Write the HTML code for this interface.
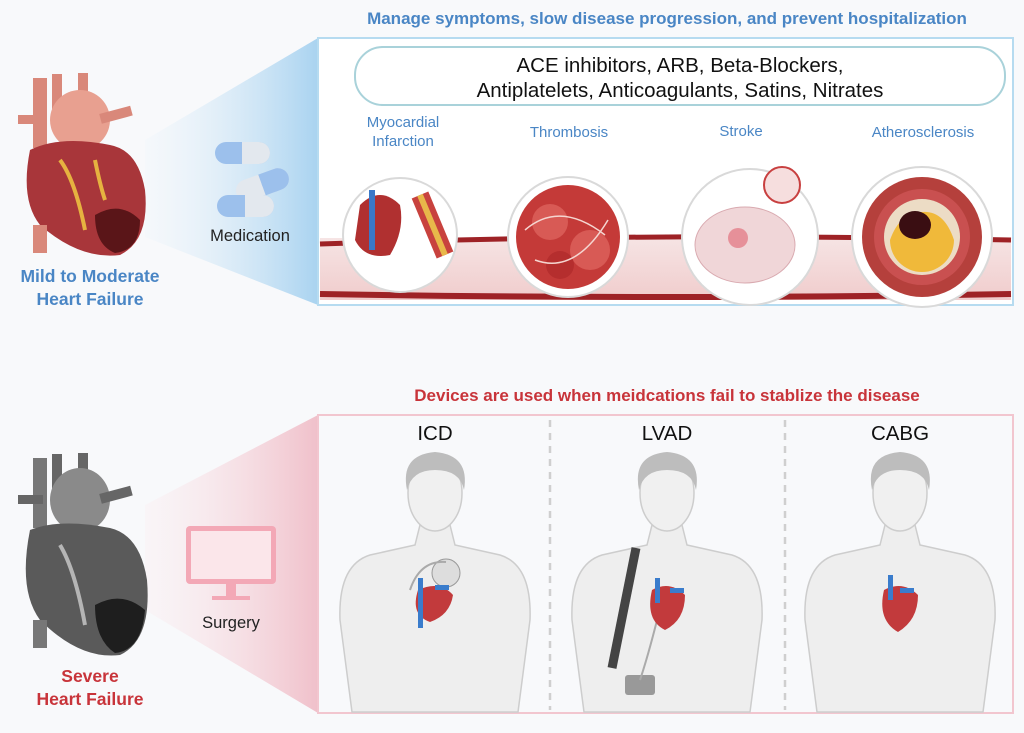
<!DOCTYPE html>
<html><head><meta charset="utf-8"><style>
body{margin:0;background:#f8f9fb;font-family:"Liberation Sans",sans-serif;}
svg{display:block}
</style></head><body>
<svg width="1024" height="733" viewBox="0 0 1024 733" xmlns="http://www.w3.org/2000/svg" font-family="Liberation Sans, sans-serif">
<defs>
<linearGradient id="bg1" x1="0" x2="1" y1="0" y2="0"><stop offset="0" stop-color="#eef5fb" stop-opacity="0.3"/><stop offset="1" stop-color="#a9d3f0"/></linearGradient>
<linearGradient id="bg2" x1="0" x2="1" y1="0" y2="0"><stop offset="0" stop-color="#fbecef" stop-opacity="0.3"/><stop offset="1" stop-color="#f0c0ca"/></linearGradient>
<linearGradient id="vein" x1="0" x2="0" y1="0" y2="1"><stop offset="0" stop-color="#f6e4e4"/><stop offset="1" stop-color="#f0cccc"/></linearGradient>
</defs>
<rect width="1024" height="733" fill="#f8f9fb"/>
<!-- top -->
<text x="667" y="24" text-anchor="middle" font-size="17" font-weight="bold" fill="#4a86c5">Manage symptoms, slow disease progression, and prevent hospitalization</text>
<polygon points="145,140 318,38 318,305 145,237" fill="url(#bg1)"/>
<rect x="318" y="38" width="695" height="267" fill="#fff" stroke="#b6dbf0" stroke-width="2"/>
<rect x="320" y="238" width="691" height="62" fill="url(#vein)"/>
<path d="M320 244 Q660 232 1011 240" stroke="#9e2226" stroke-width="5" fill="none"/>
<path d="M320 294 Q660 300 1011 294" stroke="#9e2226" stroke-width="6" fill="none"/>
<rect x="355" y="47" width="650" height="58" rx="28" fill="#fff" stroke="#a9d2da" stroke-width="2"/>
<text x="680" y="72" text-anchor="middle" font-size="20.5" fill="#111">ACE inhibitors, ARB, Beta-Blockers,</text>
<text x="680" y="97" text-anchor="middle" font-size="20.5" fill="#111">Antiplatelets, Anticoagulants, Satins, Nitrates</text>
<g font-size="15" fill="#4a86c5" text-anchor="middle">
<text x="403" y="127">Myocardial</text><text x="403" y="146">Infarction</text>
<text x="569" y="137">Thrombosis</text>
<text x="741" y="136">Stroke</text>
<text x="923" y="137">Atherosclerosis</text>
</g>
<circle cx="400" cy="235" r="57" fill="#fff" stroke="#d9d9d9" stroke-width="2"/>
<path d="M360 205 q20-20 40 0 q5 25 -10 50 q-25 5 -35 -15z" fill="#b03030"/>
<path d="M372 190 l0 60" stroke="#3a78c8" stroke-width="6"/>
<path d="M420 195 l25 60" stroke="#c8423e" stroke-width="18"/><path d="M420 195 l25 60" stroke="#e8b84a" stroke-width="6"/>
<circle cx="568" cy="237" r="60" fill="#fff" stroke="#d9d9d9" stroke-width="2"/>
<circle cx="568" cy="237" r="52" fill="#c43a38"/>
<circle cx="550" cy="222" r="18" fill="#d85a55"/><circle cx="590" cy="250" r="20" fill="#d85a55"/><circle cx="560" cy="265" r="14" fill="#b52e2e"/>
<path d="M525 230 Q560 200 605 235 M535 260 Q575 275 608 220" stroke="#f5d5d0" stroke-width="1.5" fill="none"/>
<circle cx="750" cy="237" r="68" fill="#fff" stroke="#d9d9d9" stroke-width="2"/>
<ellipse cx="745" cy="245" rx="50" ry="38" fill="#f0d6d8" stroke="#d9aab0"/>
<circle cx="738" cy="238" r="10" fill="#e06070" opacity="0.6"/>
<circle cx="782" cy="185" r="18" fill="#f6dede" stroke="#c84040" stroke-width="2"/>
<circle cx="922" cy="237" r="70" fill="#fff" stroke="#d9d9d9" stroke-width="2"/>
<circle cx="922" cy="237" r="60" fill="#b5403c"/>
<circle cx="922" cy="237" r="48" fill="#c95050"/>
<circle cx="922" cy="237" r="38" fill="#ecdcc5"/>
<path d="M890 240 a32 32 0 0 0 64 0 q-10-30 -32-28 q-22 0 -32 28z" fill="#f0b93a"/>
<ellipse cx="915" cy="225" rx="16" ry="14" fill="#3a0e12"/>
<g>
<rect x="215" y="142" width="55" height="22" rx="11" fill="#9cc0ec"/><rect x="242" y="142" width="28" height="22" rx="11" fill="#e3e8ee"/><rect x="242" y="142" width="12" height="22" fill="#e3e8ee"/>
<g transform="rotate(-20 262 185)"><rect x="235" y="174" width="55" height="22" rx="11" fill="#e3e8ee"/><rect x="262" y="174" width="28" height="22" rx="11" fill="#9cc0ec"/><rect x="262" y="174" width="10" height="22" fill="#9cc0ec"/></g>
<rect x="217" y="195" width="57" height="22" rx="11" fill="#9cc0ec"/><rect x="245" y="195" width="29" height="22" rx="11" fill="#e3e8ee"/><rect x="245" y="195" width="12" height="22" fill="#e3e8ee"/>
</g>
<text x="250" y="241" text-anchor="middle" font-size="16.5" fill="#222">Medication</text>
<g>
<rect x="33" y="78" width="14" height="70" fill="#d9887a"/><rect x="52" y="74" width="10" height="50" fill="#d9887a"/><rect x="78" y="73" width="10" height="40" fill="#d9887a"/>
<ellipse cx="80" cy="120" rx="30" ry="30" fill="#e8a090"/>
<rect x="18" y="115" width="25" height="9" fill="#d9887a"/><rect x="100" y="110" width="32" height="10" fill="#d9887a" transform="rotate(-15 115 115)"/>
<path d="M30 150 Q20 200 40 225 Q80 260 120 255 Q150 240 145 190 Q138 150 110 145 Q60 135 30 150z" fill="#a8363a"/>
<path d="M95 215 Q120 200 140 220 Q140 250 115 253 Q95 245 95 215z" fill="#5a1518"/>
<path d="M60 160 Q75 180 85 230 M95 160 Q100 185 105 200" stroke="#e6b240" stroke-width="4" fill="none"/>
<rect x="33" y="225" width="14" height="28" fill="#d9887a"/>
</g>
<text x="90" y="282" text-anchor="middle" font-size="17.5" font-weight="bold" fill="#4a86c5">Mild to Moderate</text>
<text x="90" y="305" text-anchor="middle" font-size="17.5" font-weight="bold" fill="#4a86c5">Heart Failure</text>
<!-- bottom -->
<text x="667" y="401" text-anchor="middle" font-size="17" font-weight="bold" fill="#c8343a">Devices are used when meidcations fail to stablize the disease</text>
<polygon points="145,505 318,415 318,713 145,610" fill="url(#bg2)"/>
<rect x="318" y="415" width="695" height="298" fill="#f8f9fb" stroke="#f2c6cf" stroke-width="2"/>
<line x1="550" y1="420" x2="550" y2="710" stroke="#cfcfcf" stroke-width="2.5" stroke-dasharray="7,6"/>
<line x1="785" y1="420" x2="785" y2="710" stroke="#cfcfcf" stroke-width="2.5" stroke-dasharray="7,6"/>
<g font-size="20.5" fill="#111" text-anchor="middle"><text x="435" y="440">ICD</text><text x="667" y="440">LVAD</text><text x="900" y="440">CABG</text></g>
<g id="body">
<path d="M352 712 L340 620 Q338 565 370 555 L415 545 L420 525 L450 525 L455 545 L500 555 Q532 565 530 620 L518 712z" fill="#eeeeee" stroke="#cdcdcd" stroke-width="1.5"/>
<ellipse cx="435" cy="493" rx="27" ry="38" fill="#f0f0f0" stroke="#cdcdcd" stroke-width="1.5"/>
<path d="M407 490 Q400 455 435 452 Q470 455 464 490 Q460 470 435 470 Q412 470 407 490z" fill="#bdbdbd"/>
</g>
<use href="#body" x="232"/>
<use href="#body" x="465"/>
<circle cx="446" cy="573" r="14" fill="#ddd" stroke="#999"/>
<path d="M446 562 Q420 560 410 590" stroke="#aaa" stroke-width="2" fill="none"/>
<path d="M418 590 Q410 615 430 622 Q450 615 453 595 Q440 580 418 590z" fill="#c23a3c"/>
<rect x="418" y="578" width="5" height="50" fill="#3a7ccc"/><rect x="435" y="585" width="14" height="5" fill="#3a7ccc"/>
<path d="M636 548 L612 668" stroke="#444" stroke-width="9"/>
<rect x="625" y="675" width="30" height="20" rx="3" fill="#999"/>
<path d="M662 600 Q650 650 640 680" stroke="#aaa" stroke-width="2" fill="none"/>
<path d="M652 590 Q645 620 665 630 Q685 620 685 595 Q670 580 652 590z" fill="#c23a3c"/>
<rect x="655" y="578" width="5" height="25" fill="#3a7ccc"/><rect x="670" y="588" width="14" height="5" fill="#3a7ccc"/>
<path d="M884 590 Q877 620 898 632 Q918 620 918 595 Q903 580 884 590z" fill="#c23a3c"/>
<rect x="888" y="575" width="5" height="25" fill="#3a7ccc"/><rect x="900" y="588" width="14" height="5" fill="#3a7ccc"/>
<rect x="186" y="526" width="90" height="58" rx="4" fill="#f3a8b6"/>
<rect x="191" y="531" width="80" height="48" fill="#fbe6ea"/>
<rect x="226" y="584" width="10" height="12" fill="#f3a8b6"/><rect x="212" y="596" width="38" height="4" fill="#f3a8b6"/>
<text x="231" y="628" text-anchor="middle" font-size="16.5" fill="#222">Surgery</text>
<g>
<rect x="33" y="458" width="14" height="70" fill="#777"/><rect x="52" y="454" width="10" height="50" fill="#666"/><rect x="78" y="453" width="10" height="40" fill="#666"/>
<ellipse cx="80" cy="500" rx="30" ry="32" fill="#8a8a8a"/>
<rect x="18" y="495" width="25" height="9" fill="#666"/><rect x="100" y="490" width="32" height="10" fill="#666" transform="rotate(-15 115 495)"/>
<path d="M30 530 Q18 590 40 620 Q80 660 120 655 Q152 640 147 580 Q140 535 110 528 Q60 518 30 530z" fill="#5a5a5a"/>
<path d="M95 605 Q122 590 145 610 Q142 650 115 653 Q95 640 95 605z" fill="#1e1e1e"/>
<path d="M60 545 Q75 570 85 625" stroke="#b5b5b5" stroke-width="4" fill="none"/>
<rect x="33" y="620" width="14" height="28" fill="#777"/>
</g>
<text x="90" y="682" text-anchor="middle" font-size="17.5" font-weight="bold" fill="#c8343a">Severe</text>
<text x="90" y="705" text-anchor="middle" font-size="17.5" font-weight="bold" fill="#c8343a">Heart Failure</text>
</svg>
</body></html>
